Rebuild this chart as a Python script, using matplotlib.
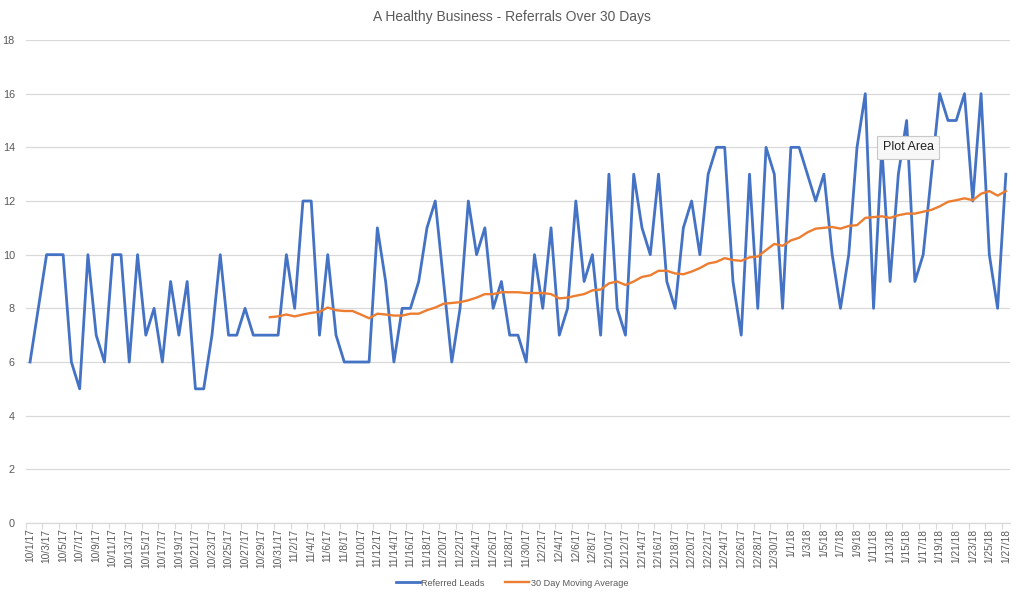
import matplotlib
matplotlib.use("Agg")
import matplotlib.pyplot as plt
import datetime as dt

plt.rcParams['font.family'] = ['Liberation Sans', 'DejaVu Sans']

start = dt.date(2017, 10, 1)
n_days = 119
dates = [start + dt.timedelta(days=i) for i in range(n_days)]
date_labels = [f"{d.month}/{d.day}/{d.year % 100}" for d in dates]

referred_leads = [
    6, 8, 10, 10, 10, 6, 5, 10, 7, 6,
    10, 10, 6, 10, 7, 8, 6, 9, 7, 9,
    5, 5, 7, 10, 7, 7, 8, 7, 7, 7,
    7, 10, 8, 12, 12, 7, 10, 7, 6, 6,
    6, 6, 11, 9, 6, 8, 8, 9, 11, 12,
    9, 6, 8, 12, 10, 11, 8, 9, 7, 7,
    6, 10, 8, 11, 7, 8, 12, 9, 10, 7,
    13, 8, 7, 13, 11, 10, 13, 9, 8, 11,
    12, 10, 13, 14, 14, 9, 7, 13, 8, 14,
    13, 8, 14, 14, 13, 12, 13, 10, 8, 10,
    14, 16, 8, 14, 9, 13, 15, 9, 10, 13,
    16, 15, 15, 16, 12, 16, 10, 8, 13,
]

# 30 day moving average (starts on 10/30/17)
ma_start = 29
moving_avg = [
    7.67, 7.70, 7.77, 7.70, 7.77, 7.83, 7.87, 8.03, 7.93, 7.90,
    7.90, 7.77, 7.63, 7.80, 7.77, 7.73, 7.73, 7.80, 7.80, 7.93,
    8.03, 8.17, 8.20, 8.23, 8.30, 8.40, 8.53, 8.53, 8.60, 8.60,
    8.60, 8.57, 8.57, 8.57, 8.53, 8.37, 8.40, 8.47, 8.53, 8.67,
    8.70, 8.93, 9.00, 8.87, 9.00, 9.17, 9.23, 9.40, 9.40, 9.30,
    9.27, 9.37, 9.50, 9.67, 9.73, 9.87, 9.80, 9.77, 9.90, 9.93,
    10.17, 10.40, 10.33, 10.53, 10.63, 10.83, 10.97, 11.00, 11.03, 10.97,
    11.07, 11.10, 11.37, 11.40, 11.43, 11.37, 11.47, 11.53, 11.53, 11.60,
    11.67, 11.80, 11.97, 12.03, 12.10, 12.03, 12.27, 12.37, 12.20, 12.37,
]

title = "A Healthy Business - Referrals Over 30 Days"
y_ticks = list(range(0, 19, 2))

txt = "#595959"
fig = plt.figure(figsize=(10.24, 5.98), dpi=100)
ax = fig.add_axes([25.9 / 1024, 1 - 523 / 598, (1010 - 25.9) / 1024, (523 - 40) / 598])

x = list(range(n_days))
ax.plot(x, referred_leads, color="#4472C4", lw=2.0, label="Referred Leads", solid_joinstyle="round", zorder=3)
ax.plot(list(range(ma_start, n_days)), moving_avg, color="#ED7D31", lw=1.7,
        label="30 Day Moving Average", solid_joinstyle="round", zorder=4)

ax.set_xlim(-0.5, n_days - 0.5)
ax.set_ylim(0, 18)
ax.set_yticks(y_ticks)
ax.set_yticklabels([str(v) for v in y_ticks], color=txt, fontsize=7.8)
ax.tick_params(axis='y', length=0, pad=8)
ax.grid(axis='y', color="#D9D9D9", lw=0.9)
ax.set_axisbelow(True)

ax.set_xticks(x[::2])
ax.set_xticklabels(date_labels[::2], rotation=90, color=txt, fontsize=7.3)
ax.tick_params(axis='x', length=0, pad=4)
ax.set_xticks([i - 0.5 for i in range(0, n_days + 1, 2)], minor=True)
ax.tick_params(axis='x', which='minor', length=4, color="#D9D9D9", width=0.8)

for s in ['top', 'right', 'left']:
    ax.spines[s].set_visible(False)
ax.spines['bottom'].set_color("#D9D9D9")
ax.spines['bottom'].set_linewidth(0.9)

fig.text(0.5, 1 - 17 / 598, title, ha='center', va='center', color=txt, fontsize=10)

leg = fig.legend(loc='center', bbox_to_anchor=(512 / 1024, 1 - 583 / 598), ncol=2, frameon=False,
                 fontsize=6.6, handlelength=2.6, handletextpad=0.15, columnspacing=2.3)
for t in leg.get_texts():
    t.set_color(txt)

# Tooltip visible in the reference screenshot
ax.text(103.1, 14.0, "Plot Area", fontsize=9, color="#222222", ha='left', va='center', zorder=10,
        bbox=dict(boxstyle="square,pad=0.45", fc="#F7F7F7", ec="#C8C8C8", lw=0.8))

fig.savefig("out.png", dpi=100)
